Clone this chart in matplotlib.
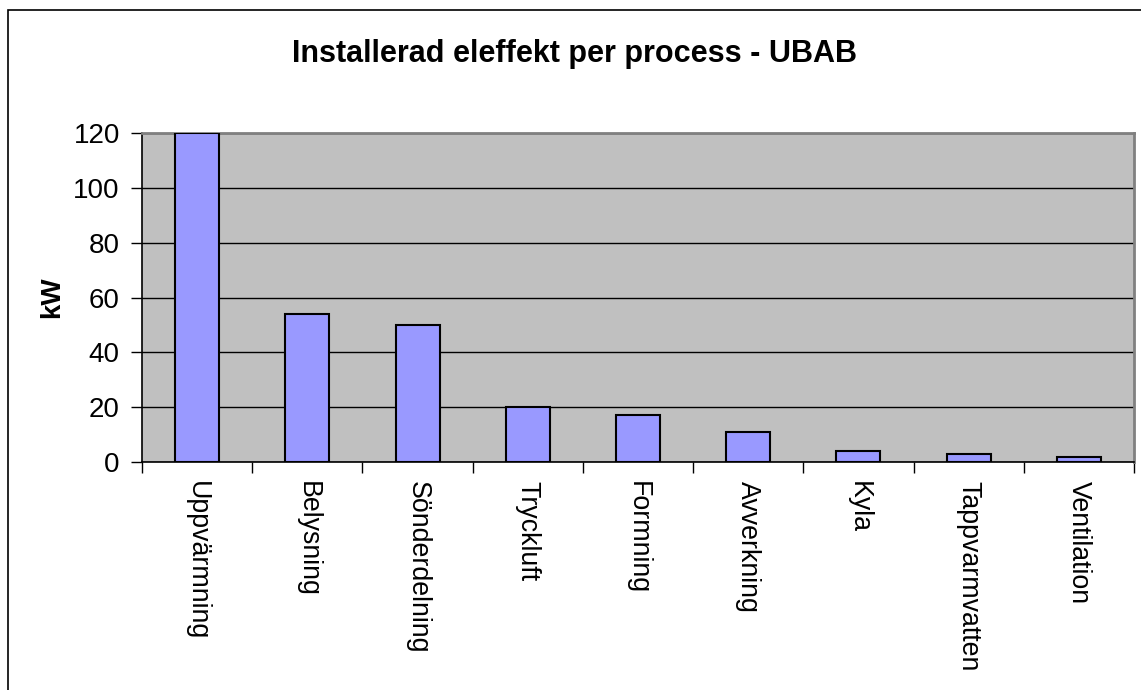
import matplotlib.pyplot as plt
import numpy as np
from matplotlib.patches import Rectangle

# Data
processes = ['Uppvärmning', 'Belysning', 'Sönderdelning', 'Tryckluft', 'Formning',
             'Avverkning', 'Kyla', 'Tappvarmvatten', 'Ventilation']
power_kw = [120, 54, 50, 20, 17, 11, 4, 3, 2]
y_ticks = [0, 20, 40, 60, 80, 100, 120]

plt.rcParams['font.family'] = ['Liberation Sans', 'DejaVu Sans']

fig = plt.figure(figsize=(11.41, 6.9), dpi=100)

# outer chart border (left/top visible, rest off-canvas)
fig.patches.append(Rectangle((8 / 1141, -0.05), 1.1, 1 - 10 / 690 + 0.05,
                             transform=fig.transFigure, fill=False,
                             edgecolor='black', linewidth=1.2))

ax = fig.add_axes([142 / 1141, 1 - 462 / 690, (1134 - 142) / 1141, (462 - 133) / 690])
ax.set_facecolor('#C0C0C0')

x = np.arange(len(processes))
ax.bar(x, power_kw, width=0.4, color='#9999FF', edgecolor='black', linewidth=1.5, zorder=3)

ax.set_xlim(-0.5, len(processes) - 0.5)
ax.set_ylim(0, 120)
ax.set_yticks(y_ticks)
ax.yaxis.grid(True, color='black', linewidth=1, zorder=1)
ax.set_axisbelow(True)

ax.set_xticks(x)
ax.set_xticklabels(processes, rotation=270, fontsize=19.3, va='top', ha='center')
ax.tick_params(axis='x', which='major', length=0, pad=14)
ax.set_xticks(np.arange(len(processes) + 1) - 0.5, minor=True)
ax.tick_params(axis='x', which='minor', length=8, width=1, direction='out')
ax.tick_params(axis='y', length=8, width=1, direction='out', labelsize=20, pad=8)

for side in ['left', 'bottom']:
    ax.spines[side].set_color('black')
    ax.spines[side].set_linewidth(1.2)
for side in ['top', 'right']:
    ax.spines[side].set_color('#808080')
    ax.spines[side].set_linewidth(2)

ax.set_ylabel('kW', fontsize=20, fontweight='bold', labelpad=6)
fig.text(575 / 1141, 1 - 54 / 690, 'Installerad eleffekt per process - UBAB',
         fontsize=22, fontweight='bold', ha='center', va='center')

fig.savefig('out.png', dpi=100)
